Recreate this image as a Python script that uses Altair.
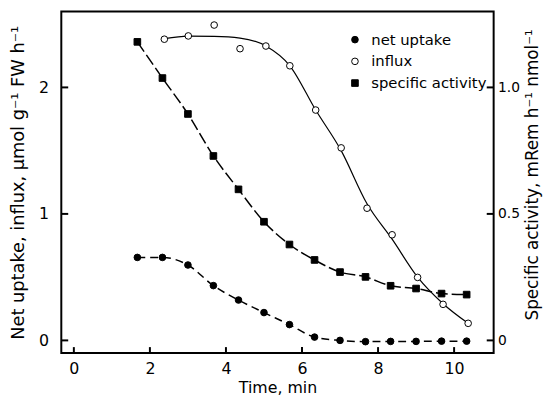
import altair as alt
import pandas as pd

# ---- data ----
time_all = [1.67, 2.33, 3.0, 3.67, 4.33, 5.0, 5.67, 6.33, 7.0, 7.67, 8.33, 9.0, 9.67, 10.33]
net_uptake = [0.656, 0.656, 0.596, 0.433, 0.319, 0.22, 0.125, 0.026, 0.0, -0.01, -0.008, -0.008, -0.006, -0.006]

time_influx = [2.38, 3.01, 3.69, 4.37, 5.05, 5.68, 6.36, 7.03, 7.71, 8.37, 9.04, 9.71, 10.37]
influx = [2.381, 2.407, 2.493, 2.306, 2.327, 2.171, 1.821, 1.522, 1.045, 0.835, 0.498, 0.285, 0.135]
influx_curve = [2.385, 2.405, 2.403, 2.39, 2.327, 2.171, 1.821, 1.50, 1.08, 0.80, 0.50, 0.29, 0.135]

specific_activity = [1.18, 1.037, 0.895, 0.729, 0.597, 0.469, 0.379, 0.318, 0.270, 0.251, 0.216, 0.205, 0.185, 0.181]

x_ticks = [0, 2, 4, 6, 8, 10]
left_ticks = [0, 1, 2]
right_ticks = [0, 0.5, 1.0]

series_names = ["net uptake", "influx", "specific activity"]

W, H = 438, 346

net_df = pd.DataFrame({"time": time_all, "val": net_uptake, "series": "net uptake"})
inf_df = pd.DataFrame({"time": time_influx, "val": influx, "series": "influx"})
infc_df = pd.DataFrame({"time": time_influx, "val": influx_curve})
sa_df = pd.DataFrame({"time": time_all, "sa": specific_activity, "series": "specific activity"})

xscale = alt.Scale(domain=[-0.33, 11.04], nice=False, zero=False)
yscale = alt.Scale(domain=[-0.1, 2.6], nice=False, zero=False)
y2scale = alt.Scale(domain=[-0.05, 1.3], nice=False, zero=False)

xaxis = alt.Axis(values=x_ticks, title="Time, min", ticks=False, domain=False, grid=False,
                 labelPadding=8, labelFontSize=16, titleFontSize=16, titlePadding=3,
                 labelFont="DejaVu Sans", titleFont="DejaVu Sans", labelColor="black",
                 titleColor="black", titleFontWeight="normal")
yaxis = alt.Axis(values=left_ticks, title="Net uptake, influx, μmol g⁻¹ FW h⁻¹", ticks=False,
                 domain=False, grid=False, labelPadding=13, labelFontSize=16, titleFontSize=18,
                 titleX=-43, titleY=H / 2, titleAngle=270, titleBaseline="middle",
                 titleAlign="center", labelFont="DejaVu Sans", titleFont="DejaVu Sans",
                 labelColor="black", titleColor="black", titleFontWeight="normal")
y2axis = alt.Axis(values=right_ticks, orient="right", title="Specific activity, mRem h⁻¹ nmol⁻¹",
                  ticks=False, domain=False, grid=False, labelPadding=4, labelFontSize=14,
                  titleFontSize=17, titleX=39, titleY=H / 2 - 8, titleAngle=270,
                  titleBaseline="middle", titleAlign="center",
                  labelExpr="datum.value == 0 ? '0' : format(datum.value, '.1f')",
                  labelFont="DejaVu Sans", titleFont="DejaVu Sans",
                  labelColor="black", titleColor="black", titleFontWeight="normal")

shape_scale = alt.Scale(domain=series_names, range=["circle", "circle", "square"])
fill_scale = alt.Scale(domain=series_names, range=["black", "white", "black"])
stroke_scale = alt.Scale(domain=series_names, range=["black", "black", "black"])
legend = alt.Legend(title=None, orient="none", legendX=290, legendY=21, labelFontSize=15,
                    labelFont="DejaVu Sans", labelColor="black", symbolSize=45,
                    symbolStrokeWidth=1, rowPadding=6, labelOffset=9)

X = alt.X("time:Q", scale=xscale, axis=xaxis)
Y = alt.Y("val:Q", scale=yscale, axis=yaxis)
Y2 = alt.Y("sa:Q", scale=y2scale, axis=y2axis)

def pts(df, y):
    return alt.Chart(df).mark_point(filled=True, size=45, strokeWidth=1, opacity=1).encode(
        x=X, y=y,
        shape=alt.Shape("series:N", scale=shape_scale, legend=legend),
        fill=alt.Fill("series:N", scale=fill_scale, legend=legend),
        stroke=alt.Stroke("series:N", scale=stroke_scale, legend=legend),
    )

net_line = alt.Chart(net_df).mark_line(color="black", strokeWidth=1.5, strokeDash=[8, 5],
                                        interpolate="monotone").encode(x=X, y=Y)
inf_line = alt.Chart(infc_df).mark_line(color="black", strokeWidth=1.2,
                                         interpolate="monotone").encode(x=X, y=Y)
sa_line = alt.Chart(sa_df).mark_line(color="black", strokeWidth=1.5, strokeDash=[12, 4],
                                      interpolate="monotone").encode(x=X, y=Y2)

bt = alt.Chart(pd.DataFrame({"time": x_ticks})).mark_rule(color="black", strokeWidth=2).encode(
    x=X, y=alt.value(H), y2=alt.value(H - 6))
lt = alt.Chart(pd.DataFrame({"val": left_ticks})).mark_rule(color="black", strokeWidth=2).encode(
    y=Y, x=alt.value(0), x2=alt.value(7))
rt = alt.Chart(pd.DataFrame({"sa": right_ticks})).mark_rule(color="black", strokeWidth=2).encode(
    y=Y2, x=alt.value(W - 7), x2=alt.value(W))

left = alt.layer(net_line, inf_line, pts(net_df, Y), pts(inf_df, Y), bt, lt)
right = alt.layer(sa_line, pts(sa_df, Y2), rt)

chart = alt.layer(left, right).resolve_scale(y="independent").properties(
    width=W, height=H,
    autosize=alt.AutoSizeParams(type="none"),
    padding={"left": 54, "top": 1, "right": 50, "bottom": 44},
    background="white",
).configure_view(stroke="black", strokeWidth=2)

chart.save("out.html", embed_options={"renderer": "svg", "actions": False})
